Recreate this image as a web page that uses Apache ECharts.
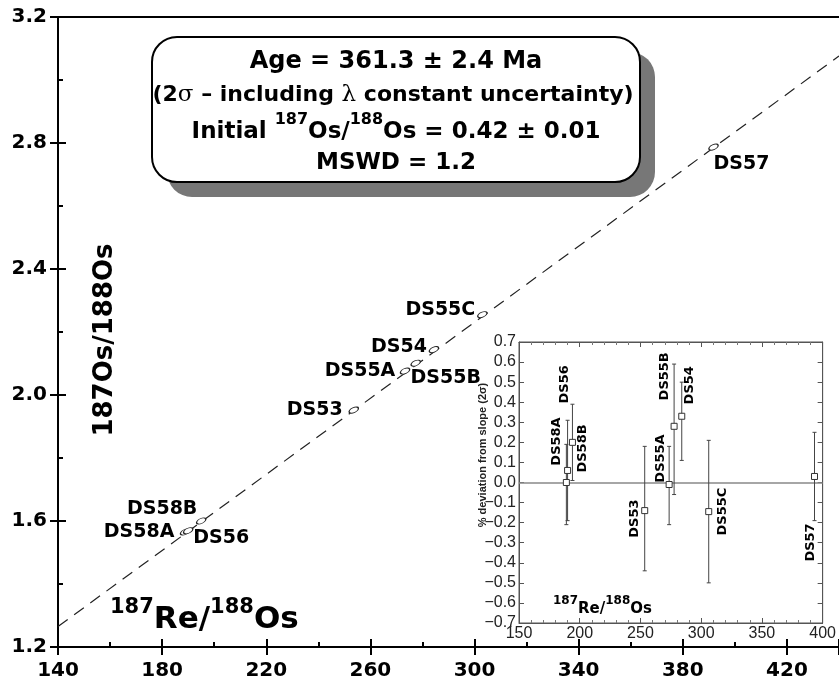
<!DOCTYPE html>
<html><head><meta charset="utf-8">
<script src="https://cdn.jsdelivr.net/npm/echarts/dist/echarts.min.js"></script>
<style>html,body{margin:0;padding:0;background:#fff}#c{width:839px;height:689px}</style>
</head><body><div id="c"></div>
<script>
// ---- data ----
const names  = ['DS53','DS54','DS55A','DS55B','DS55C','DS56','DS57','DS58A','DS58B'];
const reOs   = [253.6, 284.4, 273.3, 277.4, 303.0, 195.0, 391.8, 188.8, 190.0];
const osOs   = [1.952, 2.144, 2.076, 2.101, 2.255, 1.600, 2.787, 1.565, 1.569];
const isoX   = [140, 440];
const isoY   = [1.265, 3.076];
const xTicks = [140, 180, 220, 260, 300, 340, 380, 420];
const yTicks = [1.2, 1.6, 2.0, 2.4, 2.8, 3.2];
// inset: % deviation from slope (2 sigma)
const insetX  = [253.5, 284.0, 273.6, 277.7, 306.2, 194.0, 393.3, 189.0, 190.0];
const dev     = [-0.14, 0.33, -0.01, 0.28, -0.145, 0.20, 0.03, 0.00, 0.06];
const devLow  = [-0.44, 0.11, -0.21, -0.06, -0.50, 0.01, -0.19, -0.21, -0.19];
const devHigh = [0.18, 0.50, 0.18, 0.59, 0.21, 0.39, 0.25, 0.19, 0.31];
const insetXTicks = [150, 200, 250, 300, 350, 400];
const insetYTicks = [-0.7,-0.6,-0.5,-0.4,-0.3,-0.2,-0.1,0.0,0.1,0.2,0.3,0.4,0.5,0.6,0.7];

// ---- styling ----
const F = 'DejaVu Sans';
const H = 'Liberation Sans';
const mainOff = {DS57:[28,17], DS55C:[-42,-5], DS54:[-35,-3], DS55A:[-45,0], DS55B:[30,15],
                 DS53:[-39,0], DS58B:[-26,-22], DS58A:[-46,0], DS56:[20,17]};
const insetOff = {DS58A:[-10,-41], DS58B:[15,-22], DS56:[-8,-58], DS53:[-10,8], DS55A:[-9,-26],
                  DS55B:[-9,-50], DS54:[8,-31], DS55C:[14,0], DS57:[-4,66]};

const chart = echarts.init(document.getElementById('c'));
const blk = {color:'#000', width:2};
const fmtMinus = v => (v < -1e-9 ? '\u2212' + Math.abs(v).toFixed(1) : Math.abs(v).toFixed(1));
const near = (arr, v) => arr.some(t => Math.abs(t - v) < 1e-6);
const lblStyle = {fontFamily:F, fontWeight:'bold', fontSize:19, color:'#000'};

const option = {
  animation: false,
  backgroundColor: '#fff',
  grid: [
    {left: 58, top: 17, width: 782, height: 630},
    {left: 519, top: 342, width: 310, height: 281, show: true, backgroundColor: '#fff', borderColor: '#555', borderWidth: 1}
  ],
  xAxis: [
    {gridIndex:0, type:'value', min:140, max:440, interval:40, position:'bottom',
     axisLine:{onZero:false, lineStyle:blk}, axisTick:{inside:true, length:8, lineStyle:blk},
     minorTick:{show:true, splitNumber:2, length:5, lineStyle:blk}, splitLine:{show:false},
     axisLabel:{margin:14, fontFamily:F, fontWeight:'bold', fontSize:20, color:'#000', showMaxLabel:false,
       formatter: v => near(xTicks, v) ? String(v) : ''}},
    {gridIndex:0, type:'value', min:140, max:440, interval:40, position:'bottom',
     axisLine:{show:false, onZero:false}, axisTick:{inside:false, length:8, lineStyle:blk},
     axisLabel:{show:false}, splitLine:{show:false}},
    {gridIndex:0, type:'value', min:140, max:440, position:'top',
     axisLine:{onZero:false, lineStyle:blk}, axisTick:{show:false}, axisLabel:{show:false}, splitLine:{show:false}},
    {gridIndex:1, type:'value', min:150, max:400, interval:50, position:'bottom',
     axisLine:{onZero:false, lineStyle:{color:'#555', width:1}}, axisTick:{inside:true, length:5, lineStyle:{color:'#555'}},
     minorTick:{show:true, splitNumber:5, length:3, lineStyle:{color:'#777'}}, splitLine:{show:false},
     axisLabel:{margin:3, fontFamily:H, fontSize:16, color:'#222',
       formatter: v => near(insetXTicks, v) ? String(v) : ''}},
    {gridIndex:1, type:'value', min:150, max:400, interval:50, position:'top',
     axisLine:{onZero:false, lineStyle:{color:'#555', width:1}}, axisTick:{inside:true, length:5, lineStyle:{color:'#555'}},
     minorTick:{show:true, splitNumber:5, length:3, lineStyle:{color:'#777'}}, splitLine:{show:false},
     axisLabel:{show:false}}
  ],
  yAxis: [
    {gridIndex:0, type:'value', min:1.2, max:3.2, interval:0.4, position:'left',
     axisLine:{onZero:false, lineStyle:blk}, axisTick:{inside:true, length:8, lineStyle:blk},
     minorTick:{show:true, splitNumber:2, length:5, lineStyle:blk}, splitLine:{show:false},
     axisLabel:{margin:11, fontFamily:F, fontWeight:'bold', fontSize:20, color:'#000',
       formatter: v => near(yTicks, v) ? v.toFixed(1) : ''}},
    {gridIndex:0, type:'value', min:1.2, max:3.2, interval:0.4, position:'left',
     axisLine:{show:false, onZero:false}, axisTick:{inside:false, length:8, lineStyle:blk},
     axisLabel:{show:false}, splitLine:{show:false}},
    {gridIndex:1, type:'value', min:-0.7, max:0.7, interval:0.1, position:'left',
     axisLine:{onZero:false, lineStyle:{color:'#555', width:1}}, axisTick:{inside:true, length:5, lineStyle:{color:'#555'}},
     splitLine:{show:false},
     axisLabel:{margin:3, fontFamily:H, fontSize:16, color:'#222',
       formatter: v => near(insetYTicks, v) ? fmtMinus(v) : ''}},
    {gridIndex:1, type:'value', min:-0.7, max:0.7, interval:0.1, position:'right',
     axisLine:{onZero:false, lineStyle:{color:'#555', width:1}}, axisTick:{inside:true, length:5, lineStyle:{color:'#555'}},
     splitLine:{show:false}, axisLabel:{show:false}}
  ],
  series: [
    {type:'line', xAxisIndex:0, yAxisIndex:0, symbol:'none', silent:true,
     data: isoX.map((x,i)=>[x, isoY[i]]),
     lineStyle:{type:[12,8], color:'#222', width:1.2}, z:2},
    {type:'scatter', xAxisIndex:0, yAxisIndex:0, symbol:'circle', symbolSize:[10,5], symbolRotate:25,
     itemStyle:{color:'#fff', borderColor:'#222', borderWidth:1, opacity:1},
     label:Object.assign({show:true, position:'inside', formatter:'{b}'}, lblStyle),
     data: names.map((n,i)=>({name:n, value:[reOs[i], osOs[i]],
       label:Object.assign({offset: mainOff[n]}, lblStyle)})), z:3},
    {type:'custom', xAxisIndex:3, yAxisIndex:2, z:6,
     renderItem: function(params, api){
       const x = api.value(0), lo = api.value(1), hi = api.value(2);
       const a = api.coord([x, lo]), b = api.coord([x, hi]);
       const st = {stroke:'#444', lineWidth:1};
       return {type:'group', children:[
         {type:'line', shape:{x1:a[0], y1:a[1], x2:b[0], y2:b[1]}, style:st},
         {type:'line', shape:{x1:a[0]-2, y1:a[1], x2:a[0]+2, y2:a[1]}, style:st},
         {type:'line', shape:{x1:b[0]-2, y1:b[1], x2:b[0]+2, y2:b[1]}, style:st}
       ]};
     },
     data: insetX.map((x,i)=>[x, devLow[i], devHigh[i]])},
    {type:'scatter', xAxisIndex:3, yAxisIndex:2, symbol:'rect', symbolSize:6, z:7,
     itemStyle:{color:'#fff', borderColor:'#333', borderWidth:1, opacity:1},
     data: insetX.map((x,i)=>[x, dev[i]]),
     markLine:{silent:true, symbol:['none','none'], label:{show:false}, z:5,
       lineStyle:{color:'#888', width:1.5, type:'solid'}, data:[{yAxis:0}]}}
  ],
  graphic: [
    {type:'rect', shape:{x:167, y:52, width:488, height:145, r:25}, style:{fill:'#777'}, z:100},
    {type:'rect', shape:{x:152, y:37, width:488, height:145, r:25}, style:{fill:'#fff', stroke:'#000', lineWidth:2}, z:101},
    {type:'text', x:396, y:62, z:102, style:{text:'Age = 361.3 \u00b1 2.4 Ma', align:'center', verticalAlign:'middle',
      font:'bold 24px "DejaVu Sans"', fill:'#000'}},
    {type:'text', x:393, y:95, z:102, style:{
      text:'{n|(2}{g|\u03c3}{n| \u2013 including }{g|\u03bb}{n| constant uncertainty)}', align:'center', verticalAlign:'middle',
      rich:{n:{fontFamily:F, fontWeight:'bold', fontSize:22, fill:'#000'}, g:{fontFamily:'DejaVu Serif', fontSize:23, fill:'#000'}}}},
    {type:'text', x:396, y:128, z:102, style:{
      text:'{n|Initial }{s|187}{n|Os/}{s|188}{n|Os = 0.42 \u00b1 0.01}', align:'center', verticalAlign:'middle',
      rich:{n:{fontFamily:F, fontWeight:'bold', fontSize:23, lineHeight:32, verticalAlign:'bottom', fill:'#000'},
            s:{fontFamily:F, fontWeight:'bold', fontSize:16, verticalAlign:'top', fill:'#000'}}}},
    {type:'text', x:396, y:163, z:102, style:{text:'MSWD = 1.2', align:'center', verticalAlign:'middle',
      font:'bold 23px "DejaVu Sans"', fill:'#000'}},
    {type:'text', x:105, y:340, rotation:Math.PI/2, z:100, style:{text:'187Os/188Os', align:'center', verticalAlign:'middle',
      font:'bold 26px "DejaVu Sans"', fill:'#000'}},
    {type:'text', x:110, y:616, z:100, style:{
      text:'{s|187}{n|Re/}{s|188}{n|Os}', align:'left', verticalAlign:'middle',
      rich:{n:{fontFamily:F, fontWeight:'bold', fontSize:31, lineHeight:38, verticalAlign:'bottom', fill:'#000'},
            s:{fontFamily:F, fontWeight:'bold', fontSize:21, verticalAlign:'top', fill:'#000'}}}},
    {type:'text', x:553, y:606, z:100, style:{
      text:'{s|187}{n|Re/}{s|188}{n|Os}', align:'left', verticalAlign:'middle',
      rich:{n:{fontFamily:F, fontWeight:'bold', fontSize:15, lineHeight:22, verticalAlign:'bottom', fill:'#000'},
            s:{fontFamily:F, fontWeight:'bold', fontSize:12, verticalAlign:'top', fill:'#000'}}}},
    {type:'text', x:483, y:455, rotation:Math.PI/2, z:100, style:{text:'% deviation from slope (2\u03c3)', align:'center', verticalAlign:'middle',
      font:'bold 11px "Liberation Sans"', fill:'#222'}}
  ]
};
chart.setOption(option);

const extra = names.map((n,i)=>{
  const p = chart.convertToPixel({xAxisIndex:3, yAxisIndex:2}, [insetX[i], dev[i]]);
  const o = insetOff[n];
  return {type:'text', x:p[0]+o[0], y:p[1]+o[1], rotation:Math.PI/2, z:110,
    style:{text:n, align:'center', verticalAlign:'middle', font:'bold 13px "DejaVu Sans"', fill:'#000'}};
});
chart.setOption({graphic: option.graphic.concat(extra)});
</script></body></html>
